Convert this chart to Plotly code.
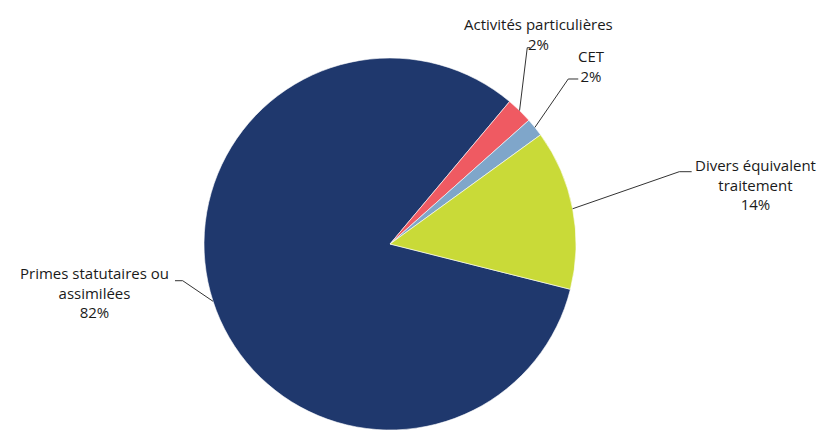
import math
import plotly.graph_objects as go

labels = ['Primes statutaires ou<br>assimilées', 'Activités particulières', 'CET', 'Divers équivalent<br>traitement']
values = [82.2, 2.3, 1.6, 13.9]
colors = ['#1f386d', '#ef5a62', '#7fa6ca', '#c9da38']

W, H = 820, 430
cx, cy, r = 390, 244, 186
start_angle = 104.1

# label boxes (pixel centre) and leader elbows (pixel)
label_pos = [(94, 292.5), (538, 33.75), (591.5, 66), (755, 184)]
elbows = [[(182.7, 280.7), (175, 280.7)],
          [(527.3, 47.7), (530, 47.7)],
          [(568.3, 79), (578.3, 79)],
          [(679.3, 171.7), (691.7, 171.7)]]

def px(x, y):
    return x / W, 1 - y / H

fig = go.Figure(go.Pie(
    labels=labels, values=values, sort=False,
    direction='clockwise', rotation=start_angle,
    marker=dict(colors=colors, line=dict(color='white', width=0.6)),
    textinfo='none', hoverinfo='label+percent',
    domain=dict(x=[(cx - 200) / W, (cx + 200) / W], y=[0, 2 * r / H]),
    showlegend=False,
))

total = sum(values)
ang = start_angle
shapes = []
annotations = []
for i, v in enumerate(values):
    span = v / total * 360
    mid = math.radians(ang + span / 2)
    ang += span
    sx, sy = cx + r * math.sin(mid), cy - r * math.cos(mid)
    pts = [(sx, sy)] + elbows[i]
    path = 'M ' + ' L '.join('%.4f,%.4f' % px(x, y) for x, y in pts)
    shapes.append(dict(type='path', path=path, xref='paper', yref='paper',
                       line=dict(color='#333333', width=1)))
    lx, ly = px(*label_pos[i])
    annotations.append(dict(x=lx, y=ly, xref='paper', yref='paper',
                            text='%s<br>%d%%' % (labels[i], round(v)),
                            showarrow=False, align='center',
                            xanchor='center', yanchor='middle',
                            font=dict(family='Open Sans', size=15, color='#1a1a1a')))

fig.update_layout(
    width=W, height=H,
    margin=dict(l=0, r=0, t=0, b=0),
    paper_bgcolor='white', plot_bgcolor='white',
    shapes=shapes, annotations=annotations,
)

fig.write_html("out.html", config={'displayModeBar': False},
               post_script="document.body.style.margin='0';")
